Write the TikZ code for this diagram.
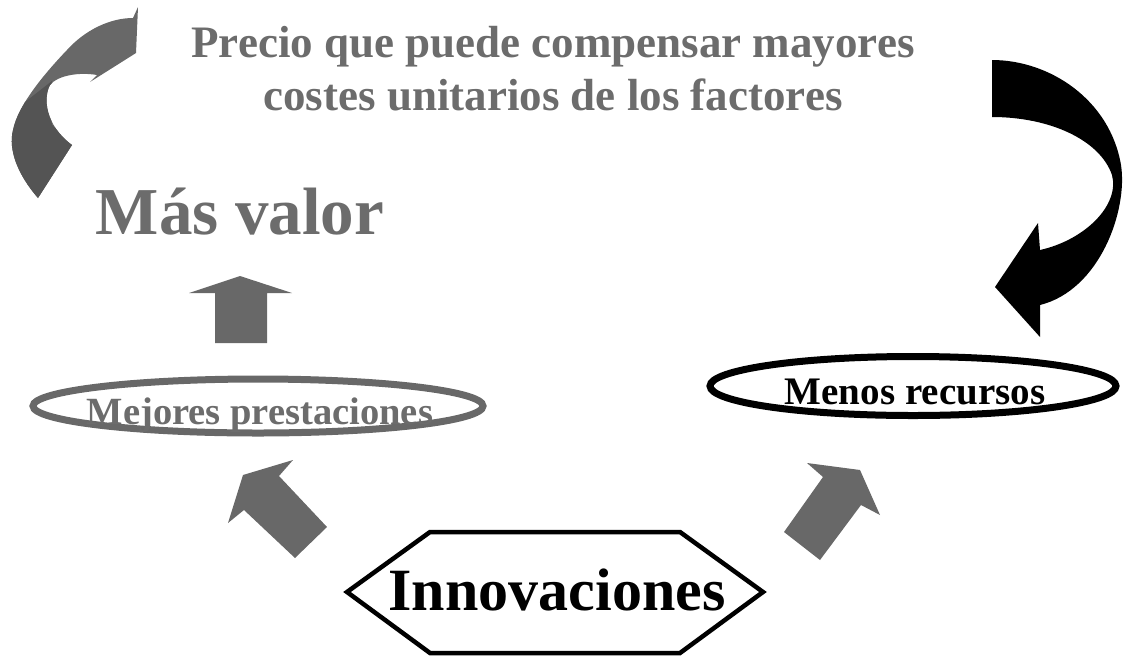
\documentclass[tikz,border=0pt]{standalone}
\usepackage{fontspec}
\setmainfont{Liberation Serif}
\usetikzlibrary{shapes.geometric}
\definecolor{gtext}{RGB}{108,108,108}
\definecolor{garrow}{RGB}{104,104,104}
\definecolor{gdark}{RGB}{84,84,84}
\begin{document}
\begin{tikzpicture}[x=1pt,y=-1pt,
  txt/.style={font=\bfseries, inner sep=0pt},
  oval/.style={ellipse, inner sep=0pt, line width=7pt},
  blockarrow/.style={fill=garrow, draw=none}]
\useasboundingbox (0,0) rectangle (1125,657);

% title (anchor base = baseline of last line)
\node[txt, text=gtext, align=center, anchor=base, font=\bfseries\fontsize{45}{53}\selectfont]
  (title) at (553,110) {Precio que puede compensar mayores\\costes unitarios de los factores};

% Más valor
\node[txt, text=gtext, anchor=base, font=\bfseries\fontsize{67}{70}\selectfont]
  (valor) at (240,234) {Más valor};

% ellipses
\node[oval, draw=garrow, minimum width=450pt, minimum height=54pt] (mejoresoval) at (258,406) {};
\node[txt, text=gtext, anchor=base, font=\bfseries\fontsize{38.5}{40}\selectfont]
  (mejores) at (260,424) {Mejores prestaciones};
\node[oval, draw=black, minimum width=406pt, minimum height=59pt] (menosoval) at (913,386) {};
\node[txt, text=black, anchor=base, font=\bfseries\fontsize{39}{40}\selectfont]
  (menos) at (915,404) {Menos recursos};

% hexagon
\draw[line width=4.5pt, line join=miter] (347,592) -- (430,532) -- (680,532) -- (763,592) -- (680,653) -- (430,653) -- cycle;
\node[txt, anchor=base, font=\bfseries\fontsize{60}{64}\selectfont] (innov) at (557,610) {Innovaciones};

% up arrow
\fill[blockarrow] (240,276) -- (292,293) -- (267,293) -- (267,343) -- (215,343) -- (215,293) -- (189,293) -- cycle;
% left diagonal arrow
\fill[blockarrow] (243,475) -- (293,460) -- (279,476) -- (327,527) -- (295,558) -- (244,510) -- (228,523) -- cycle;
% right diagonal arrow
\fill[blockarrow] (860,470) -- (880,515) -- (861,505) -- (820,560) -- (784,532) -- (823,477) -- (807,463) -- cycle;

% upper-left curved arrow
\def\leftcurve{(38,198) .. controls (18,175) and (8,150) .. (13,130) .. controls (18,105) and (45,73) .. (67,50) .. controls (85,30) and (110,18) .. (133,18) -- (138,7) -- (136,53) -- (90,82) -- (97,75) .. controls (80,72) and (58,75) .. (50,85) .. controls (43,98) and (45,125) .. (72,145) -- cycle}
\fill[garrow] \leftcurve;
\begin{scope}
  \clip (-20,137) -- (52,81) -- (48,100) -- (52,125) -- (80,150) -- (80,250) -- (-20,250) -- cycle;
  \fill[gdark] \leftcurve;
\end{scope}

% right black curved arrow
\fill[black] (992,60) .. controls (1050,60) and (1110,100) .. (1121,165) .. controls (1128,210) and (1100,290) .. (1040,305) -- (1040,337) -- (995,287) -- (1038,223) -- (1040,250) .. controls (1085,240) and (1120,205) .. (1112,175) .. controls (1100,140) and (1050,117) .. (992,117) -- cycle;
\end{tikzpicture}
\end{document}
